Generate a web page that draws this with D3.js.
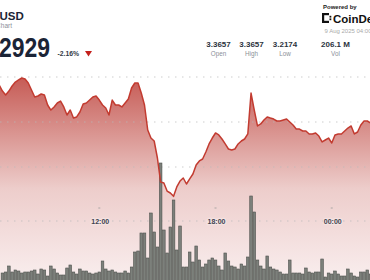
<!DOCTYPE html>
<html>
<head>
<meta charset="utf-8">
<script src="https://cdn.jsdelivr.net/npm/d3@7"></script>
<style>
  body { margin: 0; background: #fff; overflow: hidden; }
  svg { display: block; font-family: "Liberation Sans", Arial, sans-serif; }
</style>
</head>
<body>
<div id="master"></div>
<script>
// price every 10 min from 06:50, volume (M) every 10 min from 07:00
const prices = [3.3411,3.3344,3.3300,3.3344,3.3400,3.3444,3.3467,3.3489,3.3478,3.3433,
  3.3356,3.3278,3.3289,3.3311,3.3300,3.3189,3.3133,3.3167,3.3211,3.3233,
  3.3167,3.3078,3.3133,3.3044,3.3056,3.3111,3.3200,3.3211,3.3244,3.3278,
  3.3289,3.3244,3.3189,3.3156,3.3078,3.3244,3.3189,3.3189,3.3167,3.3211,
  3.3256,3.3378,3.3433,3.3433,3.3322,3.3189,3.2911,3.2822,3.2789,3.2600,
  3.2333,3.2322,3.2233,3.2211,3.2174,3.2278,3.2344,3.2378,3.2311,3.2367,
  3.2422,3.2522,3.2567,3.2589,3.2667,3.2756,3.2822,3.2878,3.2856,3.2811,
  3.2756,3.2700,3.2689,3.2700,3.2756,3.2789,3.2811,3.2867,3.3322,3.3133,
  3.2956,3.2978,3.3022,3.3056,3.3044,3.3033,3.3011,3.3011,3.3022,3.3033,
  3.3000,3.2967,3.2922,3.2922,3.2900,3.2900,3.2867,3.2867,3.2878,3.2844,
  3.2778,3.2800,3.2822,3.2767,3.2856,3.2867,3.2867,3.2900,3.2933,3.2956,
  3.2867,3.2889,3.2967,3.3011,3.3011,3.2989];
const volumes = [0.9,1.0,1.6,1.0,1.2,1.1,0.9,1.0,1.0,1.1,
  1.2,0.8,1.3,1.2,0.6,1.6,1.3,0.9,0.7,0.7,
  1.4,1.7,1.0,0.8,1.3,1.1,1.1,0.9,0.8,0.9,
  1.0,2.1,1.3,1.1,1.2,1.0,0.9,0.9,1.1,0.9,
  1.5,3.0,3.1,4.9,4.9,2.4,6.9,5.0,3.5,11.9,
  5.2,2.9,5.5,8.2,3.2,5.6,1.5,1.5,3.0,2.0,
  3.6,2.2,1.5,1.8,2.2,2.4,2.2,1.6,1.2,2.9,
  2.1,1.6,1.5,1.3,1.8,1.6,2.5,8.6,7.0,2.2,
  1.6,1.3,2.6,1.5,1.3,1.2,1.0,0.8,0.8,2.2,
  0.9,0.9,0.9,0.8,1.4,1.0,0.9,1.0,1.0,2.3,
  0.5,0.9,0.8,1.1,0.8,0.6,0.6,1.3,0.9,0.6,
  0.5,1.0,1.0,1.2,0.8];
const priceStart = new Date(2025, 7, 8, 6, 50);
const volStart = new Date(2025, 7, 8, 7, 0);
const tickTimes = [new Date(2025, 7, 8, 12), new Date(2025, 7, 8, 18), new Date(2025, 7, 9, 0)];
const tickLabels = ["12:00", "18:00", "00:00"];
const gridPrices = [3.25, 3.30, 3.35];
const statValues = ["3.3657", "3.3657", "3.2174", "206.1 M"];
const statLabels = ["Open", "High", "Low", "Vol"];

const w = 370, h = 280;
const svg = d3.select("#master").append("svg").attr("width", w).attr("height", h);

const x = d3.scaleTime()
  .domain([new Date(2025, 7, 8, 6, 54), new Date(2025, 7, 9, 2, 0)])
  .range([0.5, 370.5]);
const y = d3.scaleLinear().domain([3.25, 3.35]).range([167, 77]);
const yv = d3.scaleLinear().domain([0, 12]).range([282, 162]);

const pts = prices.map((p, i) => ({ t: d3.timeMinute.offset(priceStart, i * 10), p }));
const bars = volumes.map((v, i) => ({ t: d3.timeMinute.offset(volStart, i * 10), v }));

const grad = svg.append("defs").append("linearGradient")
  .attr("id", "fillGrad").attr("gradientUnits", "userSpaceOnUse")
  .attr("x1", 0).attr("y1", 77).attr("x2", 0).attr("y2", 280);
grad.append("stop").attr("offset", "0%").attr("stop-color", "#c65b55");
grad.append("stop").attr("offset", "55%").attr("stop-color", "#edcdcb");
grad.append("stop").attr("offset", "100%").attr("stop-color", "#f9eeee");

// area
svg.append("path")
  .datum(pts)
  .attr("fill", "url(#fillGrad)")
  .attr("d", d3.area().x(d => x(d.t)).y0(282).y1(d => y(d.p)));

// grid
svg.append("g").selectAll("line")
  .data(gridPrices)
  .enter().append("line")
  .attr("x1", 0).attr("x2", w)
  .attr("y1", d => y(d)).attr("y2", d => y(d))
  .attr("stroke", "#b9b9b9").attr("stroke-opacity", 0.7)
  .attr("stroke-width", 1.2).attr("stroke-dasharray", "1.5,5.5");

svg.append("line")
  .attr("x1", 0).attr("x2", w).attr("y1", 221).attr("y2", 221)
  .attr("stroke", "#b9b9b9").attr("stroke-opacity", 0.7)
  .attr("stroke-width", 1.2).attr("stroke-dasharray", "1.5,5.5");

// volume
svg.append("g").selectAll("rect")
  .data(bars)
  .enter().append("rect")
  .attr("x", d => x(d.t) - 1.3)
  .attr("width", 2.6)
  .attr("y", d => yv(d.v))
  .attr("height", d => 282 - yv(d.v))
  .attr("fill", "#7c807b")
  .attr("stroke", "#4e514d")
  .attr("stroke-width", 0.6);

// price line
svg.append("path")
  .datum(pts)
  .attr("fill", "none")
  .attr("stroke", "#c23b30")
  .attr("stroke-width", 1.5)
  .attr("stroke-linejoin", "round")
  .attr("d", d3.line().x(d => x(d.t)).y(d => y(d.p)));

// time axis labels
const tg = svg.append("g");
tickTimes.forEach((t, i) => {
  tg.append("line")
    .attr("x1", x(t) - 1).attr("x2", x(t) + 1).attr("y1", 208).attr("y2", 208)
    .attr("stroke", "#9a9a9a").attr("stroke-width", 0.8);
  tg.append("text")
    .attr("x", x(t) + 1).attr("y", 223.5)
    .attr("text-anchor", "middle")
    .attr("font-size", 7).attr("font-weight", "bold")
    .attr("fill", "#3d4350")
    .attr("stroke", "#f5e2e1").attr("stroke-width", 2.5).attr("paint-order", "stroke")
    .text(tickLabels[i]);
});

// header
svg.append("text").attr("x", -0.5).attr("y", 20)
  .attr("font-size", 11.5).attr("font-weight", "bold").attr("fill", "#1b2436").text("USD");
svg.append("text").attr("x", 12).attr("y", 28).attr("text-anchor", "end")
  .attr("font-size", 6.5).attr("fill", "#8a8f98").text("Chart");
svg.append("text").attr("transform", "translate(50,57) scale(0.82,1)")
  .attr("text-anchor", "end")
  .attr("font-size", 28).attr("font-weight", "bold").attr("fill", "#1b2436").text("3.2929");
svg.append("text").attr("x", 57.5).attr("y", 56)
  .attr("font-size", 6.8).attr("font-weight", "bold").attr("fill", "#333a46").text("-2.16%");
svg.append("path").attr("d", "M85,51 L92,51 L88.5,56.5 Z").attr("fill", "#c4201c");

const statX = [218.5, 251.5, 285, 335.5];
statValues.forEach((v, i) => {
  svg.append("text").attr("x", statX[i]).attr("y", 46.5).attr("text-anchor", "middle")
    .attr("font-size", 8).attr("font-weight", "bold").attr("fill", "#2c3340").text(v);
  svg.append("text").attr("x", statX[i]).attr("y", 55.5).attr("text-anchor", "middle")
    .attr("font-size", 6.3).attr("fill", "#8a8f98").text(statLabels[i]);
});

svg.append("text").attr("x", 323).attr("y", 8.5)
  .attr("font-size", 6).attr("font-weight", "bold").attr("fill", "#222").text("Powered by");
const logo = svg.append("g").attr("fill", "#111");
logo.append("rect").attr("x", 322).attr("y", 13).attr("width", 2.2).attr("height", 10);
logo.append("rect").attr("x", 322).attr("y", 13).attr("width", 7).attr("height", 2.2);
logo.append("rect").attr("x", 322).attr("y", 20.8).attr("width", 7).attr("height", 2.2);
logo.append("rect").attr("x", 329.5).attr("y", 15.8).attr("width", 1.8).attr("height", 1.8);
logo.append("rect").attr("x", 329.5).attr("y", 18.4).attr("width", 1.8).attr("height", 1.8);
svg.append("text").attr("x", 333).attr("y", 22.5)
  .attr("font-size", 11.5).attr("font-weight", "bold").attr("fill", "#111").text("CoinDesk");
svg.append("text").attr("x", 324.5).attr("y", 32.5)
  .attr("font-size", 6).attr("fill", "#aaaaaa").text("9 Aug 2025 04:00");
</script>
</body>
</html>
